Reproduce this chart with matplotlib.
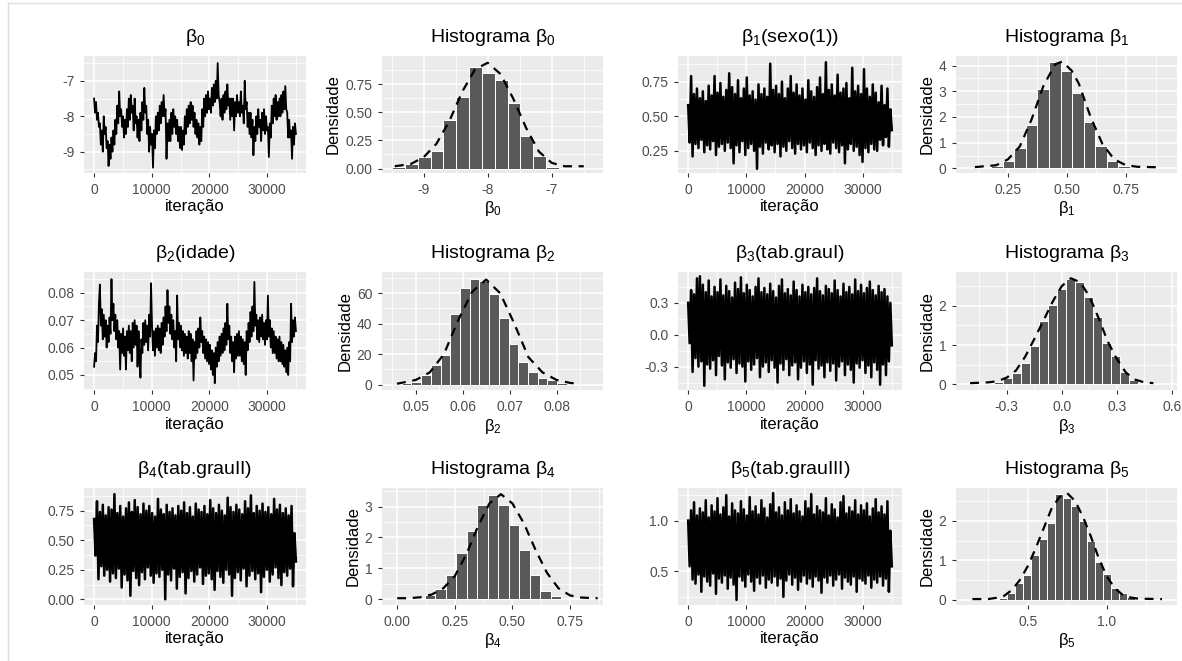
import numpy as np
import matplotlib.pyplot as plt
from matplotlib.lines import Line2D

plt.rcParams['font.family'] = ['Liberation Sans', 'DejaVu Sans']
plt.rcParams['mathtext.fontset'] = 'custom'
plt.rcParams['mathtext.rm'] = 'Liberation Sans'
plt.rcParams['mathtext.it'] = 'Liberation Sans'
plt.rcParams['mathtext.default'] = 'regular'
plt.rcParams['axes.unicode_minus'] = False

# ---------------- data ----------------
n_iter = 35000

trace_b0 = [
    -7.5, -7.9, -7.6, -8.1, -7.9, -8.3, -8.2, -8.8, -8.4, -9.0, -8.0, -8.5,
    -8.3, -8.9, -8.7, -9.4, -8.8, -9.2, -8.6, -9.0, -8.4, -8.8, -8.1, -8.5,
    -7.7, -8.2, -7.3, -8.0, -7.8, -8.3, -8.0, -8.6, -8.1, -8.5, -7.8, -8.3,
    -7.5, -8.1, -7.4, -7.9, -7.7, -8.4, -7.5, -8.2, -8.0, -8.6, -8.1, -8.7,
    -7.9, -8.4, -7.6, -8.1, -7.2, -7.9, -7.7, -8.5, -8.1, -9.0, -8.3, -8.8,
    -8.5, -9.45, -8.4, -8.9, -8.0, -8.5, -7.9, -8.4, -7.7, -8.2, -7.6, -8.0,
    -7.4, -8.0, -7.8, -9.2, -8.2, -8.7, -8.1, -8.7, -7.9, -8.5, -7.8, -8.3,
    -8.0, -8.5, -8.1, -8.7, -8.3, -8.9, -8.3, -8.95, -8.4, -8.8, -8.0, -8.5,
    -7.8, -8.3, -7.7, -8.2, -7.6, -8.1, -7.7, -8.3, -7.9, -8.5, -8.1, -8.6,
    -8.2, -8.8, -8.3, -8.7, -7.8, -8.3, -7.5, -8.0, -7.4, -7.9, -7.3, -7.8,
    -7.5, -7.9, -7.2, -7.7, -7.1, -7.6, -7.0, -7.5, -6.5, -7.4, -7.6, -8.0,
    -7.5, -8.1, -7.4, -7.9, -7.3, -7.8, -7.1, -7.7, -7.5, -8.1, -7.5, -8.0,
    -7.5, -8.4, -7.6, -8.0, -7.4, -7.9, -7.6, -8.0, -7.3, -7.9, -7.7, -8.2,
    -7.0, -7.8, -7.6, -8.3, -7.9, -8.5, -7.9, -8.6, -8.1, -9.1, -8.3, -8.7,
    -8.0, -8.5, -7.8, -8.3, -8.1, -8.7, -7.9, -8.4, -7.8, -8.5, -8.0, -8.4,
    -8.3, -9.15, -8.2, -8.6, -7.7, -8.2, -7.5, -8.0, -7.4, -8.1, -7.6, -8.0,
    -7.5, -8.0, -7.4, -7.9, -7.3, -7.8, -7.15, -7.8, -7.9, -8.6, -8.1, -8.6,
    -8.4, -9.2, -8.3, -8.8, -8.2, -8.5,
]

trace_b1 = [
    0.58, 0.31, 0.79, 0.21, 0.66, 0.30, 0.70, 0.27, 0.63, 0.33, 0.68, 0.24, 0.61, 0.29, 0.72, 0.26, 0.65, 0.32, 0.79, 0.22,
    0.67, 0.28, 0.74, 0.30, 0.64, 0.25, 0.69, 0.31, 0.81, 0.27, 0.71, 0.16, 0.66, 0.29, 0.76, 0.24, 0.63, 0.32, 0.70, 0.22,
    0.78, 0.27, 0.65, 0.30, 0.68, 0.25, 0.62, 0.12, 0.73, 0.28, 0.66, 0.23, 0.70, 0.31, 0.64, 0.26, 0.88, 0.29, 0.69, 0.24,
    0.72, 0.30, 0.66, 0.21, 0.75, 0.28, 0.63, 0.25, 0.70, 0.32, 0.79, 0.27, 0.67, 0.23, 0.73, 0.30, 0.65, 0.26, 0.70, 0.29,
    0.62, 0.24, 0.76, 0.31, 0.68, 0.27, 0.64, 0.22, 0.71, 0.29, 0.78, 0.25, 0.66, 0.30, 0.89, 0.26, 0.69, 0.23, 0.73, 0.31,
    0.65, 0.27, 0.80, 0.24, 0.67, 0.29, 0.70, 0.16, 0.74, 0.26, 0.63, 0.30, 0.85, 0.25, 0.68, 0.28, 0.72, 0.22, 0.66, 0.17,
    0.84, 0.27, 0.70, 0.24, 0.64, 0.30, 0.73, 0.26, 0.67, 0.25, 0.60, 0.33, 0.72, 0.29, 0.58, 0.35, 0.70, 0.28, 0.55, 0.40,
]

trace_b2 = [
    0.053, 0.058, 0.055, 0.068, 0.062, 0.076, 0.083, 0.068, 0.074, 0.063, 0.072, 0.064,
    0.070, 0.060, 0.068, 0.062, 0.071, 0.065, 0.085, 0.070, 0.076, 0.066, 0.072, 0.063,
    0.070, 0.060, 0.066, 0.052, 0.065, 0.058, 0.067, 0.057, 0.064, 0.052, 0.066, 0.059,
    0.068, 0.058, 0.066, 0.055, 0.069, 0.060, 0.070, 0.061, 0.068, 0.053, 0.066, 0.058,
    0.049, 0.063, 0.058, 0.069, 0.061, 0.070, 0.062, 0.068, 0.059, 0.072, 0.064, 0.0835,
    0.068, 0.059, 0.066, 0.057, 0.067, 0.060, 0.068, 0.059, 0.067, 0.058, 0.069, 0.061,
    0.071, 0.064, 0.075, 0.066, 0.081, 0.069, 0.075, 0.065, 0.072, 0.063, 0.070, 0.060,
    0.066, 0.055, 0.079, 0.063, 0.069, 0.060, 0.068, 0.059, 0.066, 0.057, 0.065, 0.058,
    0.064, 0.056, 0.066, 0.058, 0.065, 0.055, 0.063, 0.048, 0.062, 0.056, 0.066, 0.058,
    0.067, 0.060, 0.071, 0.062, 0.066, 0.058, 0.064, 0.056, 0.063, 0.055, 0.062, 0.054,
    0.061, 0.052, 0.059, 0.050, 0.058, 0.047, 0.060, 0.053, 0.062, 0.055, 0.064, 0.057,
    0.065, 0.058, 0.067, 0.059, 0.069, 0.061, 0.076, 0.063, 0.068, 0.058, 0.064, 0.055,
    0.062, 0.051, 0.064, 0.056, 0.065, 0.057, 0.066, 0.057, 0.064, 0.055, 0.063, 0.054,
    0.062, 0.050, 0.066, 0.059, 0.069, 0.062, 0.073, 0.064, 0.075, 0.066, 0.084, 0.068,
    0.072, 0.063, 0.070, 0.062, 0.071, 0.064, 0.072, 0.063, 0.069, 0.061, 0.070, 0.063,
    0.079, 0.064, 0.070, 0.060, 0.067, 0.058, 0.066, 0.058, 0.064, 0.056, 0.063, 0.055,
    0.064, 0.055, 0.062, 0.054, 0.061, 0.053, 0.059, 0.051, 0.060, 0.050, 0.062, 0.055,
    0.076, 0.062, 0.070, 0.064, 0.071, 0.066,
]

trace_b3 = [
    0.30, -0.08, 0.42, -0.35, 0.38, -0.22, 0.53, -0.30, 0.55, -0.25, 0.47, -0.48, 0.40, -0.28, 0.51, -0.32, 0.36, -0.24, 0.45, -0.38,
    0.40, -0.20, 0.52, -0.29, 0.37, -0.42, 0.46, -0.26, 0.41, -0.31, 0.35, -0.23, 0.49, -0.36, 0.43, -0.27, 0.54, -0.30, 0.39, -0.44,
    0.47, -0.25, 0.42, -0.33, 0.36, -0.28, 0.45, -0.22, 0.53, -0.40, 0.40, -0.30, 0.44, -0.26, 0.38, -0.35, 0.48, -0.24, 0.41, -0.31,
    0.35, -0.45, 0.46, -0.27, 0.52, -0.33, 0.39, -0.23, 0.43, -0.38, 0.37, -0.29, 0.50, -0.26, 0.42, -0.42, 0.36, -0.31, 0.47, -0.25,
    0.40, -0.36, 0.45, -0.28, 0.38, -0.47, 0.44, -0.24, 0.53, -0.32, 0.41, -0.29, 0.37, -0.40, 0.46, -0.26, 0.43, -0.34, 0.39, -0.27,
    0.51, -0.43, 0.42, -0.30, 0.36, -0.25, 0.48, -0.38, 0.40, -0.28, 0.45, -0.33, 0.38, -0.45, 0.52, -0.27, 0.41, -0.31, 0.47, -0.24,
    0.39, -0.36, 0.44, -0.29, 0.50, -0.40, 0.42, -0.26, 0.37, -0.33, 0.46, -0.47, 0.40, -0.28, 0.43, -0.38, 0.36, -0.25, 0.30, -0.10,
]

trace_b4 = [
    0.68, 0.37, 0.83, 0.17, 0.74, 0.28, 0.80, 0.20, 0.71, 0.25, 0.78, 0.15, 0.76, 0.22, 0.89, 0.18, 0.73, 0.26, 0.79, 0.10,
    0.70, 0.21, 0.77, 0.16, 0.82, 0.03, 0.74, 0.24, 0.84, 0.18, 0.78, 0.12, 0.72, 0.23, 0.81, 0.17, 0.75, 0.27, 0.79, 0.20,
    0.73, 0.14, 0.70, 0.22, 0.85, 0.19, 0.76, 0.25, 0.72, 0.00, 0.80, 0.21, 0.74, 0.16, 0.77, 0.26, 0.71, 0.09, 0.79, 0.19,
    0.75, 0.23, 0.82, 0.05, 0.73, 0.18, 0.78, 0.24, 0.70, 0.15, 0.81, 0.21, 0.76, 0.27, 0.74, 0.13, 0.79, 0.20, 0.72, 0.22,
    0.84, 0.17, 0.77, 0.08, 0.73, 0.24, 0.80, 0.19, 0.75, 0.14, 0.71, 0.25, 0.86, 0.21, 0.78, 0.03, 0.74, 0.18, 0.80, 0.23,
    0.76, 0.16, 0.72, 0.26, 0.83, 0.11, 0.77, 0.20, 0.88, 0.24, 0.73, 0.17, 0.79, 0.22, 0.75, 0.06, 0.81, 0.19, 0.74, 0.25,
    0.78, 0.15, 0.72, 0.21, 0.85, 0.27, 0.76, 0.18, 0.80, 0.12, 0.73, 0.23, 0.77, 0.20, 0.71, 0.26, 0.79, 0.11, 0.56, 0.32,
]

trace_b5 = [
    1.00, 0.55, 1.10, 0.42, 1.18, 0.38, 1.05, 0.47, 1.12, 0.30, 1.08, 0.45, 1.20, 0.40, 1.03, 0.36, 1.15, 0.48, 1.09, 0.28,
    1.22, 0.43, 1.06, 0.39, 1.13, 0.46, 1.25, 0.33, 1.04, 0.44, 1.17, 0.37, 1.10, 0.22, 1.07, 0.45, 1.19, 0.41, 1.11, 0.35,
    1.05, 0.47, 1.23, 0.40, 1.09, 0.31, 1.14, 0.44, 1.06, 0.38, 1.20, 0.46, 1.12, 0.34, 1.03, 0.42, 1.16, 0.39, 1.27, 0.45,
    1.08, 0.36, 1.13, 0.43, 1.05, 0.25, 1.18, 0.41, 1.10, 0.47, 1.21, 0.37, 1.07, 0.44, 1.15, 0.32, 1.09, 0.40, 1.04, 0.46,
    1.19, 0.38, 1.12, 0.43, 1.26, 0.35, 1.06, 0.45, 1.14, 0.41, 1.10, 0.29, 1.08, 0.44, 1.22, 0.39, 1.05, 0.46, 1.16, 0.36,
    1.11, 0.42, 1.03, 0.47, 1.18, 0.33, 1.24, 0.44, 1.07, 0.40, 1.13, 0.37, 1.09, 0.45, 1.20, 0.30, 1.06, 0.43, 1.15, 0.41,
    1.10, 0.38, 1.17, 0.46, 1.04, 0.34, 1.12, 0.42, 1.21, 0.39, 1.08, 0.45, 1.14, 0.36, 1.06, 0.43, 1.19, 0.30, 0.90, 0.55,
]

# histograms: first bin edge, bin width, densities
hist_b0_start, hist_b0_width = -9.49, 0.2
hist_b0 = [0.01, 0.04, 0.10, 0.16, 0.43, 0.64, 0.90, 0.85, 0.79, 0.58, 0.29, 0.11, 0.015, 0.005, 0.003]
dens_b0_x = [-9.45, -9.2, -9.0, -8.8, -8.6, -8.4, -8.2, -8.0, -7.8, -7.6, -7.4, -7.2, -7.0, -6.8, -6.5]
dens_b0_y = [0.02, 0.04, 0.10, 0.22, 0.42, 0.68, 0.88, 0.94, 0.84, 0.62, 0.36, 0.15, 0.05, 0.02, 0.02]

hist_b1_start, hist_b1_width = 0.130, 0.049
hist_b1 = [0.01, 0.08, 0.30, 0.80, 1.68, 3.10, 4.12, 3.80, 2.92, 1.81, 0.88, 0.28, 0.10, 0.04, 0.02, 0.01]
dens_b1_x = [0.11, 0.2, 0.25, 0.3, 0.35, 0.4, 0.45, 0.48, 0.52, 0.55, 0.6, 0.65, 0.7, 0.75, 0.8, 0.9]
dens_b1_y = [0.05, 0.12, 0.35, 0.85, 1.9, 3.2, 4.05, 4.15, 3.8, 3.3, 2.0, 0.95, 0.35, 0.12, 0.06, 0.04]

hist_b2_start, hist_b2_width = 0.0470, 0.00207
hist_b2 = [0.8, 1.8, 6.2, 12.9, 19.6, 46.7, 63.3, 69.6, 68.0, 59.6, 44.0, 26.7, 15.0, 8.5, 4.0, 2.8, 1.0, 0.3]
dens_b2_x = [0.046, 0.050, 0.053, 0.056, 0.059, 0.062, 0.065, 0.068, 0.071, 0.074, 0.077, 0.080, 0.083, 0.085]
dens_b2_y = [0.5, 3.0, 8.0, 20.0, 42.0, 61.0, 69.0, 60.0, 40.0, 18.0, 8.0, 3.0, 1.0, 0.5]

hist_b3_start, hist_b3_width = -0.468, 0.049
hist_b3 = [0.02, 0.03, 0.05, 0.17, 0.30, 0.55, 0.97, 1.62, 2.03, 2.42, 2.67, 2.61, 2.23, 1.72, 1.04, 0.72, 0.32, 0.11, 0.04, 0.02]
dens_b3_x = [-0.5, -0.4, -0.35, -0.3, -0.25, -0.2, -0.15, -0.1, -0.05, 0.0, 0.05, 0.1, 0.15, 0.2, 0.25, 0.3, 0.35, 0.4, 0.45, 0.5]
dens_b3_y = [0.03, 0.05, 0.08, 0.17, 0.35, 0.70, 1.15, 1.62, 2.10, 2.50, 2.70, 2.60, 2.25, 1.70, 1.10, 0.65, 0.30, 0.12, 0.05, 0.03]

hist_b4_start, hist_b4_width = 0.029, 0.0455
hist_b4 = [0.02, 0.04, 0.13, 0.32, 0.77, 1.50, 2.20, 3.05, 3.38, 3.04, 2.41, 1.59, 0.78, 0.27, 0.09, 0.03, 0.01]
dens_b4_x = [0.0, 0.05, 0.1, 0.15, 0.2, 0.25, 0.3, 0.35, 0.4, 0.45, 0.5, 0.55, 0.6, 0.65, 0.7, 0.75, 0.8, 0.87]
dens_b4_y = [0.03, 0.03, 0.06, 0.15, 0.35, 0.75, 1.45, 2.35, 3.1, 3.4, 3.1, 2.45, 1.6, 0.85, 0.35, 0.12, 0.05, 0.03]

hist_b5_start, hist_b5_width = 0.268, 0.0506
hist_b5 = [0.03, 0.05, 0.18, 0.42, 0.62, 1.13, 1.55, 1.95, 2.68, 2.58, 2.38, 2.00, 1.50, 0.95, 0.65, 0.30, 0.18, 0.06, 0.03]
dens_b5_x = [0.15, 0.25, 0.3, 0.35, 0.4, 0.45, 0.5, 0.55, 0.6, 0.65, 0.7, 0.75, 0.8, 0.85, 0.9, 0.95, 1.0, 1.05, 1.1, 1.15, 1.2, 1.35]
dens_b5_y = [0.02, 0.02, 0.05, 0.10, 0.25, 0.50, 0.85, 1.30, 1.80, 2.30, 2.60, 2.70, 2.50, 2.10, 1.60, 1.05, 0.60, 0.30, 0.13, 0.06, 0.03, 0.02]

# ---------------- figure ----------------
W, H = 1182, 661
fig = plt.figure(figsize=(W / 100, H / 100), dpi=100)
fig.patch.set_facecolor('white')

TICK_COLOR = '#4D4D4D'

# thin light frame of the screenshot (top and left edges)
fig.add_artist(Line2D([8 / W, 1], [1 - 3 / H, 1 - 3 / H], color='#DDDDDD', lw=1))
fig.add_artist(Line2D([8 / W, 8 / W], [0, 1 - 3 / H], color='#DDDDDD', lw=1))


def add_panel(left, top, right, bottom):
    return fig.add_axes([left / W, 1 - bottom / H, (right - left) / W, (bottom - top) / H])


def minor_breaks(ticks):
    step = ticks[1] - ticks[0]
    return np.arange(ticks[0] - step / 2, ticks[-1] + step, step)


def style(ax, xt, xl, yt, yl, xlim, ylim, title, xlabel, ylabel=None):
    ax.set_facecolor('#EBEBEB')
    for s in ax.spines.values():
        s.set_visible(False)
    ax.set_xticks(xt)
    ax.set_xticklabels(xl)
    ax.set_yticks(yt)
    ax.set_yticklabels(yl)
    ax.set_xticks(minor_breaks(xt), minor=True)
    ax.set_yticks(minor_breaks(yt), minor=True)
    ax.set_xlim(xlim)
    ax.set_ylim(ylim)
    ax.set_axisbelow(True)
    ax.grid(which='major', color='white', lw=1.1)
    ax.grid(which='minor', color='white', lw=0.55)
    ax.tick_params(which='minor', length=0)
    ax.tick_params(which='major', length=3, width=0.8, color='#333333',
                   labelcolor=TICK_COLOR, labelsize=10, pad=4)
    ax.set_title(title, fontsize=14, pad=10, color='black')
    ax.set_xlabel(xlabel, fontsize=12, labelpad=2)
    if ylabel:
        ax.set_ylabel(ylabel, fontsize=12, labelpad=3)


def trace(ax, values, lw):
    its = np.linspace(0, n_iter, len(values))
    ax.plot(its, values, color='black', lw=lw)


def hist(ax, start, width, heights, dx, dy):
    edges = start + width * np.arange(len(heights))
    ax.bar(edges, heights, width=width, align='edge', color='#595959',
           edgecolor='white', linewidth=0.7)
    ax.plot(dx, dy, color='black', lw=1.6, linestyle=(0, (4, 3)))


it_ticks = [0, 10000, 20000, 30000]
it_labels = ['0', '10000', '20000', '30000']
it_lim = (-1750, 36750)

rows = [(56, 173), (272, 390), (488, 605)]
cols = [(84, 306), (382, 603), (678, 902), (956, 1177)]

# row 1
ax = add_panel(cols[0][0], rows[0][0], cols[0][1], rows[0][1])
trace(ax, trace_b0, 1.3)
style(ax, it_ticks, it_labels, [-9, -8, -7], ['-9', '-8', '-7'], it_lim, (-9.6, -6.3),
      'β$_0$', 'iteração')

ax = add_panel(cols[1][0], rows[0][0], cols[1][1], rows[0][1])
hist(ax, hist_b0_start, hist_b0_width, hist_b0, dens_b0_x, dens_b0_y)
style(ax, [-9, -8, -7], ['-9', '-8', '-7'], [0, 0.25, 0.5, 0.75], ['0.00', '0.25', '0.50', '0.75'],
      (-9.65, -6.2), (-0.04, 1.0), 'Histograma β$_0$', 'β$_0$', 'Densidade')

ax = add_panel(cols[2][0], rows[0][0], cols[2][1], rows[0][1])
trace(ax, trace_b1, 1.8)
style(ax, it_ticks, it_labels, [0.25, 0.5, 0.75], ['0.25', '0.50', '0.75'], it_lim, (0.09, 0.935),
      'β$_1$(sexo(1))', 'iteração')

ax = add_panel(cols[3][0], rows[0][0], cols[3][1], rows[0][1])
hist(ax, hist_b1_start, hist_b1_width, hist_b1, dens_b1_x, dens_b1_y)
style(ax, [0.25, 0.5, 0.75], ['0.25', '0.50', '0.75'], [0, 1, 2, 3, 4], ['0', '1', '2', '3', '4'],
      (0.03, 0.966), (-0.18, 4.37), 'Histograma β$_1$', 'β$_1$', 'Densidade')

# row 2
ax = add_panel(cols[0][0], rows[1][0], cols[0][1], rows[1][1])
trace(ax, trace_b2, 1.3)
style(ax, it_ticks, it_labels, [0.05, 0.06, 0.07, 0.08], ['0.05', '0.06', '0.07', '0.08'], it_lim,
      (0.0445, 0.0876), 'β$_2$(idade)', 'iteração')

ax = add_panel(cols[1][0], rows[1][0], cols[1][1], rows[1][1])
hist(ax, hist_b2_start, hist_b2_width, hist_b2, dens_b2_x, dens_b2_y)
style(ax, [0.05, 0.06, 0.07, 0.08], ['0.05', '0.06', '0.07', '0.08'], [0, 20, 40, 60], ['0', '20', '40', '60'],
      (0.0428, 0.0899), (-3.6, 74), 'Histograma β$_2$', 'β$_2$', 'Densidade')

ax = add_panel(cols[2][0], rows[1][0], cols[2][1], rows[1][1])
trace(ax, trace_b3, 1.8)
style(ax, it_ticks, it_labels, [-0.3, 0.0, 0.3], ['-0.3', '0.0', '0.3'], it_lim, (-0.52, 0.59),
      'β$_3$(tab.grauI)', 'iteração')

ax = add_panel(cols[3][0], rows[1][0], cols[3][1], rows[1][1])
hist(ax, hist_b3_start, hist_b3_width, hist_b3, dens_b3_x, dens_b3_y)
style(ax, [-0.3, 0.0, 0.3, 0.6], ['-0.3', '0.0', '0.3', '0.6'], [0, 1, 2], ['0', '1', '2'],
      (-0.577, 0.629), (-0.145, 2.86), 'Histograma β$_3$', 'β$_3$', 'Densidade')

# row 3
ax = add_panel(cols[0][0], rows[2][0], cols[0][1], rows[2][1])
trace(ax, trace_b4, 1.8)
style(ax, it_ticks, it_labels, [0, 0.25, 0.5, 0.75], ['0.00', '0.25', '0.50', '0.75'], it_lim,
      (-0.048, 0.942), 'β$_4$(tab.grauII)', 'iteração')

ax = add_panel(cols[1][0], rows[2][0], cols[1][1], rows[2][1])
hist(ax, hist_b4_start, hist_b4_width, hist_b4, dens_b4_x, dens_b4_y)
style(ax, [0, 0.25, 0.5, 0.75], ['0.00', '0.25', '0.50', '0.75'], [0, 1, 2, 3], ['0', '1', '2', '3'],
      (-0.066, 0.893), (-0.19, 3.6), 'Histograma β$_4$', 'β$_4$', 'Densidade')

ax = add_panel(cols[2][0], rows[2][0], cols[2][1], rows[2][1])
trace(ax, trace_b5, 1.8)
style(ax, it_ticks, it_labels, [0.5, 1.0], ['0.5', '1.0'], it_lim, (0.17, 1.32),
      'β$_5$(tab.grauIII)', 'iteração')

ax = add_panel(cols[3][0], rows[2][0], cols[3][1], rows[2][1])
hist(ax, hist_b5_start, hist_b5_width, hist_b5, dens_b5_x, dens_b5_y)
style(ax, [0.5, 1.0], ['0.5', '1.0'], [0, 1, 2], ['0', '1', '2'],
      (0.046, 1.445), (-0.13, 2.83), 'Histograma β$_5$', 'β$_5$', 'Densidade')

fig.savefig('out.png', dpi=100, facecolor='white')
